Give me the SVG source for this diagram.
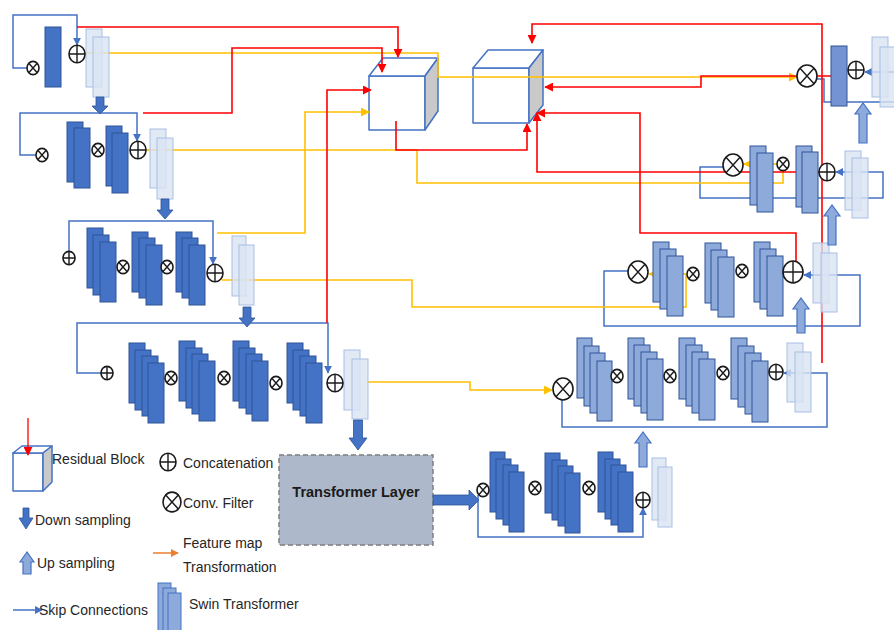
<svg xmlns="http://www.w3.org/2000/svg" width="894" height="630" viewBox="0 0 894 630">
<style>
.e{fill:#4472C4;stroke:#2F5597;stroke-width:1}
.d{fill:#8EAADB;stroke:#2F5597;stroke-width:1}
.p{fill:#DAE3F3;fill-opacity:.8;stroke:#A9BFE6;stroke-width:1}
.sym{fill:#fff;stroke:#1a1a1a;stroke-width:1.6;vector-effect:non-scaling-stroke}
.syl{fill:none;stroke:#1a1a1a;stroke-width:1.4;vector-effect:non-scaling-stroke}
.dn{fill:#4472C4;stroke:#2F5597;stroke-width:.8}
.up{fill:#8EAADB;stroke:#4472C4;stroke-width:1.2}
.cf{fill:#fff;stroke:#4472C4;stroke-width:1.5;stroke-linejoin:round}
.cs{fill:#C9C9C9;stroke:#4472C4;stroke-width:1.5;stroke-linejoin:round}
.s{fill:none;stroke:#4472C4;stroke-width:1.5}
.y{fill:none;stroke:#FFC000;stroke-width:1.6}
.r{fill:none;stroke:#FF0000;stroke-width:1.6}
.t{font-family:"Liberation Sans",Arial,sans-serif;font-size:14px;fill:#262626}
</style>
<defs>
<marker id="mr" viewBox="0 0 10 10" refX="9" refY="5" markerWidth="9" markerHeight="9" markerUnits="userSpaceOnUse" orient="auto"><path d="M0,0 L10,5 L0,10 z" fill="#FF0000"/></marker>
<marker id="my" viewBox="0 0 10 10" refX="9" refY="5" markerWidth="9" markerHeight="9" markerUnits="userSpaceOnUse" orient="auto"><path d="M0,0 L10,5 L0,10 z" fill="#FFC000"/></marker>
<marker id="mb" viewBox="0 0 10 10" refX="9" refY="5" markerWidth="8" markerHeight="8" markerUnits="userSpaceOnUse" orient="auto"><path d="M0,0 L10,5 L0,10 z" fill="#4472C4"/></marker>
<marker id="mo" viewBox="0 0 10 10" refX="9" refY="5" markerWidth="8" markerHeight="8" markerUnits="userSpaceOnUse" orient="auto"><path d="M0,0 L10,5 L0,10 z" fill="#ED7D31"/></marker>
<g id="ox"><ellipse rx="10" ry="11" class="sym"/><path d="M-7,-7.8 L7,7.8 M7,-7.8 L-7,7.8" class="syl"/></g>
<g id="op"><ellipse rx="10" ry="11" class="sym"/><path d="M-10,0 H10 M0,-11 V11" class="syl"/></g>
</defs>

<g id="cube1">
<rect class="cf" x="369" y="76" width="56" height="54"/>
<polygon class="cf" points="369,76 383,58 438,58 425,76"/>
<polygon class="cs" points="425,76 438,58 438,111 425,130"/>
</g>
<g id="cube2">
<rect class="cf" x="473" y="68" width="56" height="55"/>
<polygon class="cf" points="473,68 488,50 543,50 529,68"/>
<polygon class="cs" points="529,68 543,50 543,105 529,123"/>
</g>

<g id="connectors">
<g id="skip">
<path class="s" d="M27,68 H13 V15 H77 V45" marker-end="url(#mb)"/>
<path class="s" d="M36,155 H20 V113 H137 V141" marker-end="url(#mb)"/>
<path class="s" d="M69,252 V221 H213 V264" marker-end="url(#mb)"/>
<path class="s" d="M101,373 H77 V323 H328 V373" marker-end="url(#mb)"/>
<path class="s" d="M478,495 V537 H643 V508" marker-end="url(#mb)"/>
<path class="s" d="M562,400 V427 H827 V373 H784" marker-end="url(#mb)"/>
<path class="s" d="M628,271 H604 V326 H860 V275 H804" marker-end="url(#mb)"/>
<path class="s" d="M723,167 H700 V198 H883 V172 H836" marker-end="url(#mb)"/>
<path class="s" d="M817,79 H824 V102 H894"/>
<path class="s" d="M894,72 H865" marker-end="url(#mb)"/>
</g>
<g id="feature">
<path class="y" d="M85,53 H438 V77 H797" marker-end="url(#my)"/>
<path class="y" d="M146,150 H417 V183 H783 V164 H744" marker-end="url(#my)"/>
<path class="y" d="M217,233 H305 V112 H369" marker-end="url(#my)"/>
<path class="y" d="M222,280 H412 V307 H686 V274 H649" marker-end="url(#my)"/>
<path class="y" d="M367,382 H470 V390 H552" marker-end="url(#my)"/>
</g>
<g id="residual">
<path class="r" d="M77,27 H398 V57" marker-end="url(#mr)"/>
<path class="r" d="M143,113 H232 V48 H382 V72" marker-end="url(#mr)"/>
<path class="r" d="M327,323 V90 H371" marker-end="url(#mr)"/>
<path class="r" d="M396,121 V150 H527 V124" marker-end="url(#mr)"/>
<path class="r" d="M822,363 V24 H532 V43" marker-end="url(#mr)"/>
<path class="r" d="M831,76 H701 V87 H545" marker-end="url(#mr)"/>
<path class="r" d="M796,262 V233 H640 V113 H537" marker-end="url(#mr)"/>
<path class="r" d="M819,172 H537 V113" marker-end="url(#mr)"/>
</g>
</g>

<g id="enc1">
<rect class="p" x="86" y="29" width="16" height="58"/>
<rect class="p" x="93" y="37" width="16" height="60"/>
<rect class="e" x="45" y="27" width="16" height="60"/>
<use href="#ox" transform="translate(33,68) scale(.6)"/>
<use href="#op" transform="translate(77,54) scale(.8)"/>
<path class="dn" d="M96,97 H104 V106 H108 L100,114 L92,106 H96 Z"/>
</g>

<g id="enc2">
<rect class="p" x="150" y="129" width="16" height="59"/>
<rect class="p" x="157" y="138" width="16" height="61"/>
<rect class="e" x="67" y="122" width="16" height="60"/>
<rect class="e" x="74" y="128" width="16" height="60"/>
<rect class="e" x="106" y="126" width="16" height="60"/>
<rect class="e" x="112" y="133" width="16" height="60"/>
<use href="#ox" transform="translate(42,155) scale(.6)"/>
<use href="#ox" transform="translate(98,150) scale(.6)"/>
<use href="#op" transform="translate(138,150) scale(.8)"/>
<path class="dn" d="M161,199 H169 V210 H173 L165,219 L157,210 H161 Z"/>
</g>

<g id="enc3">
<rect class="p" x="232" y="236" width="14" height="60"/>
<rect class="p" x="239" y="245" width="15" height="60"/>
<rect class="e" x="87" y="228" width="16" height="60"/>
<rect class="e" x="93" y="235" width="16" height="60"/>
<rect class="e" x="100" y="242" width="16" height="60"/>
<rect class="e" x="132" y="232" width="16" height="60"/>
<rect class="e" x="139" y="238" width="16" height="60"/>
<rect class="e" x="146" y="245" width="16" height="60"/>
<rect class="e" x="176" y="232" width="16" height="60"/>
<rect class="e" x="182" y="238" width="16" height="60"/>
<rect class="e" x="189" y="245" width="16" height="60"/>
<use href="#op" transform="translate(69,258) scale(.6)"/>
<use href="#ox" transform="translate(123,267) scale(.6)"/>
<use href="#ox" transform="translate(167,267) scale(.6)"/>
<use href="#op" transform="translate(215,273) scale(.8)"/>
<path class="dn" d="M243,307 H251 V318 H255 L247,327 L239,318 H243 Z"/>
</g>

<g id="enc4">
<rect class="p" x="344" y="350" width="16" height="60"/>
<rect class="p" x="352" y="359" width="16" height="60"/>
<rect class="e" x="129" y="343" width="16" height="60"/>
<rect class="e" x="135" y="350" width="16" height="60"/>
<rect class="e" x="142" y="356" width="16" height="60"/>
<rect class="e" x="148" y="363" width="16" height="60"/>
<rect class="e" x="179" y="341" width="16" height="60"/>
<rect class="e" x="186" y="348" width="16" height="60"/>
<rect class="e" x="192" y="354" width="16" height="60"/>
<rect class="e" x="199" y="361" width="16" height="60"/>
<rect class="e" x="233" y="341" width="16" height="60"/>
<rect class="e" x="239" y="348" width="16" height="60"/>
<rect class="e" x="246" y="354" width="16" height="60"/>
<rect class="e" x="252" y="361" width="16" height="60"/>
<rect class="e" x="287" y="343" width="16" height="60"/>
<rect class="e" x="293" y="350" width="16" height="60"/>
<rect class="e" x="300" y="356" width="16" height="60"/>
<rect class="e" x="306" y="363" width="16" height="60"/>
<use href="#op" transform="translate(107,373) scale(.6)"/>
<use href="#ox" transform="translate(171,378) scale(.6)"/>
<use href="#ox" transform="translate(224,378) scale(.6)"/>
<use href="#ox" transform="translate(276,383) scale(.6)"/>
<use href="#op" transform="translate(335,383) scale(.8)"/>
<path class="dn" d="M353.5,420 H362.5 V438 H367 L358,450 L349,438 H353.5 Z"/>
</g>

<g id="bottleneck">
<rect x="279" y="455" width="154" height="90" fill="#ADB9CA" stroke="#7F7F7F" stroke-width="1.5" stroke-dasharray="5,3"/>
<text x="356" y="497" text-anchor="middle" style="font-family:'Liberation Sans',Arial,sans-serif;font-size:14.5px;font-weight:bold;fill:#1a1a1a">Transformer Layer</text>
<path class="dn" d="M433,495 H469 V490 L479,500 L469,510 V505 H433 Z"/>
<rect class="p" x="652" y="458" width="14" height="62"/>
<rect class="p" x="658" y="467" width="14" height="60"/>
<rect class="e" x="490" y="452" width="15" height="60"/>
<rect class="e" x="496" y="459" width="15" height="60"/>
<rect class="e" x="503" y="465" width="15" height="60"/>
<rect class="e" x="509" y="472" width="15" height="60"/>
<rect class="e" x="545" y="453" width="15" height="60"/>
<rect class="e" x="552" y="460" width="15" height="60"/>
<rect class="e" x="558" y="466" width="15" height="60"/>
<rect class="e" x="565" y="473" width="15" height="60"/>
<rect class="e" x="598" y="452" width="15" height="60"/>
<rect class="e" x="605" y="459" width="15" height="60"/>
<rect class="e" x="611" y="465" width="15" height="60"/>
<rect class="e" x="618" y="472" width="15" height="60"/>
<use href="#ox" transform="translate(483,490) scale(.6)"/>
<use href="#ox" transform="translate(535,488) scale(.6)"/>
<use href="#ox" transform="translate(589,488) scale(.6)"/>
<use href="#op" transform="translate(643,500) scale(.7)"/>
<path class="up" d="M639,467 H647 V443 H651 L643,432 L635,443 H639 Z"/>
</g>

<g id="dec4">
<rect class="p" x="787" y="343" width="16" height="59"/>
<rect class="p" x="795" y="352" width="16" height="60"/>
<rect class="d" x="577" y="338" width="15" height="60"/>
<rect class="d" x="584" y="346" width="15" height="60"/>
<rect class="d" x="590" y="353" width="15" height="60"/>
<rect class="d" x="597" y="361" width="15" height="60"/>
<rect class="d" x="628" y="338" width="16" height="61"/>
<rect class="d" x="634" y="345" width="16" height="61"/>
<rect class="d" x="641" y="352" width="16" height="61"/>
<rect class="d" x="647" y="359" width="16" height="61"/>
<rect class="d" x="679" y="338" width="16" height="61"/>
<rect class="d" x="686" y="345" width="16" height="61"/>
<rect class="d" x="692" y="352" width="16" height="61"/>
<rect class="d" x="699" y="359" width="16" height="61"/>
<rect class="d" x="731" y="338" width="16" height="61"/>
<rect class="d" x="738" y="346" width="16" height="61"/>
<rect class="d" x="745" y="353" width="16" height="61"/>
<rect class="d" x="752" y="361" width="16" height="61"/>
<use href="#ox" transform="translate(563,389)"/>
<use href="#ox" transform="translate(617,376) scale(.6)"/>
<use href="#ox" transform="translate(670,376) scale(.6)"/>
<use href="#ox" transform="translate(723,373) scale(.6)"/>
<use href="#op" transform="translate(776,372) scale(.7)"/>
<path class="up" d="M797,333 H805 V309 H809 L801,298 L793,309 H797 Z"/>
</g>

<g id="dec3">
<rect class="p" x="813" y="243" width="16" height="60"/>
<rect class="p" x="821" y="253" width="16" height="59"/>
<rect class="d" x="653" y="242" width="16" height="60"/>
<rect class="d" x="660" y="249" width="16" height="60"/>
<rect class="d" x="667" y="256" width="16" height="60"/>
<rect class="d" x="705" y="243" width="16" height="60"/>
<rect class="d" x="711" y="250" width="16" height="60"/>
<rect class="d" x="718" y="257" width="16" height="60"/>
<rect class="d" x="754" y="242" width="16" height="60"/>
<rect class="d" x="760" y="249" width="16" height="60"/>
<rect class="d" x="767" y="256" width="16" height="60"/>
<use href="#ox" transform="translate(638,272)"/>
<use href="#ox" transform="translate(693,274) scale(.6)"/>
<use href="#ox" transform="translate(742,271) scale(.6)"/>
<use href="#op" transform="translate(793,272)"/>
<path class="up" d="M828,245 H836 V216 H840 L832,205 L824,216 H828 Z"/>
</g>

<g id="dec2">
<rect class="p" x="845" y="151" width="16" height="59"/>
<rect class="p" x="852" y="158" width="16" height="60"/>
<rect class="d" x="750" y="146" width="16" height="59"/>
<rect class="d" x="757" y="153" width="16" height="59"/>
<rect class="d" x="796" y="146" width="16" height="61"/>
<rect class="d" x="802" y="152" width="16" height="61"/>
<use href="#ox" transform="translate(733,165)"/>
<use href="#ox" transform="translate(783,164) scale(.6)"/>
<use href="#op" transform="translate(827,172) scale(.8)"/>
<path class="up" d="M859,143 H867 V114 H871 L863,103 L855,114 H859 Z"/>
</g>

<g id="dec1">
<rect class="p" x="872" y="37" width="16" height="60"/>
<rect class="p" x="880" y="47" width="16" height="60"/>
<rect x="831" y="46" width="16" height="60" fill="#7393D2" stroke="#2F5597" stroke-width="1"/>
<use href="#ox" transform="translate(807,76)"/>
<use href="#op" transform="translate(856,70) scale(.8)"/>
</g>

<g id="legend">
<rect class="cf" x="13" y="453" width="30" height="38"/>
<polygon class="cf" points="13,453 22,446 52,446 43,453"/>
<polygon class="cs" points="43,453 52,446 52,482 43,491"/>
<path d="M28,418 V455" stroke="#FF0000" stroke-width="1.3" fill="none" marker-end="url(#mr)"/>
<text class="t" x="52" y="464">Residual Block</text>
<use href="#op" transform="translate(168,462) scale(.8)"/>
<text class="t" x="183" y="468">Concatenation</text>
<use href="#ox" transform="translate(172,502) scale(.9)"/>
<text class="t" x="183" y="508">Conv. Filter</text>
<path class="dn" d="M23,508 H29 V518 H33 L26,529 L19,518 H23 Z"/>
<text class="t" x="35" y="525">Down sampling</text>
<path class="up" d="M23,574 H31 V562 H34 L27,552 L20,562 H23 Z"/>
<text class="t" x="37" y="568">Up sampling</text>
<path d="M153,553 H178" stroke="#ED7D31" stroke-width="1.5" fill="none" marker-end="url(#mo)"/>
<text class="t" x="183" y="548">Feature map</text>
<text class="t" x="183" y="572">Transformation</text>
<path d="M13,610 H42" stroke="#4472C4" stroke-width="1.5" fill="none" marker-end="url(#mb)"/>
<text class="t" x="39" y="615">Skip Connections</text>
<rect class="d" x="158" y="583" width="13" height="52" style="stroke:#4472C4"/>
<rect class="d" x="163" y="588" width="13" height="47" style="stroke:#4472C4"/>
<rect class="d" x="168" y="593" width="13" height="42" style="stroke:#4472C4"/>
<text class="t" x="189" y="609">Swin Transformer</text>
</g>
</svg>
